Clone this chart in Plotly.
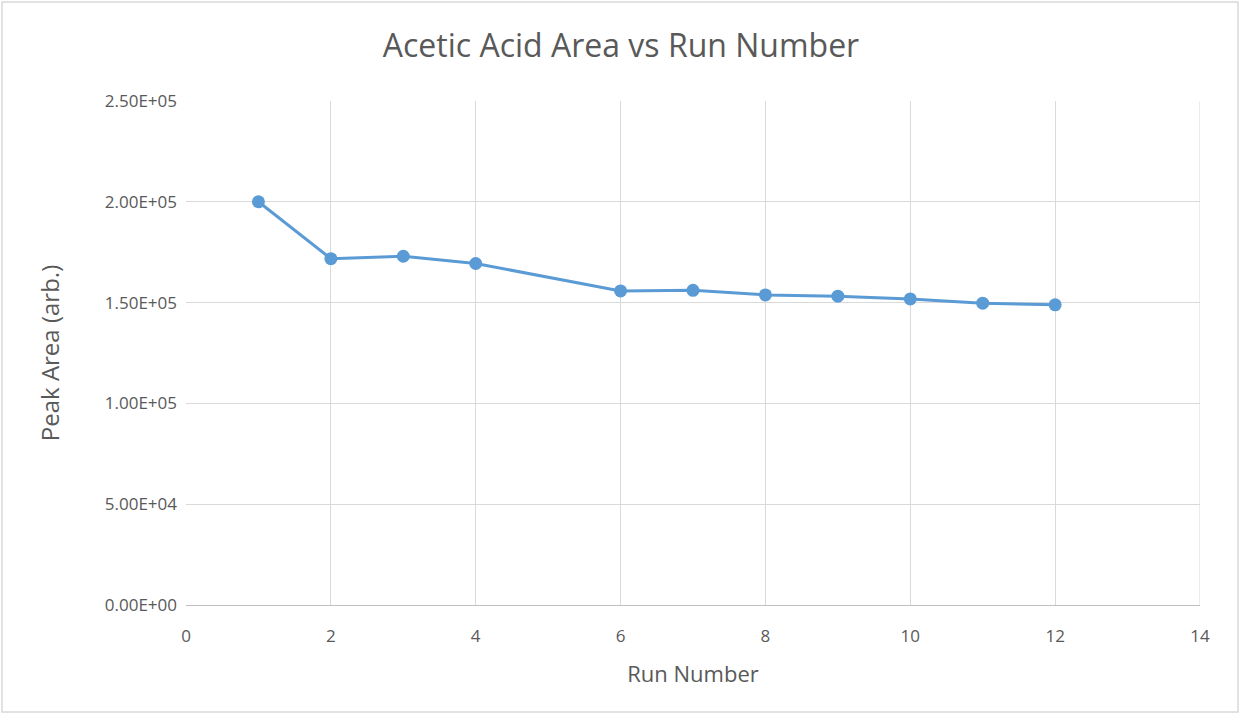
import plotly.graph_objects as go

# Acetic acid peak area per run
run_number = [1, 2, 3, 4, 6, 7, 8, 9, 10, 11, 12]
peak_area = [200000, 171800, 173000, 169400, 155800, 156100, 153800, 153200, 151800, 149700, 148900]

y_tick_values = [0, 50000, 100000, 150000, 200000, 250000]
y_tick_labels = ["0.00E+00", "5.00E+04", "1.00E+05", "1.50E+05", "2.00E+05", "2.50E+05"]
x_tick_values = [0, 2, 4, 6, 8, 10, 12, 14]

text_grey = "#595959"
grid_grey = "#d9d9d9"
series_blue = "#5b9bd5"
font_family = "'Open Sans', Lato, sans-serif"

fig = go.Figure()
fig.add_trace(go.Scatter(
    x=run_number,
    y=peak_area,
    mode="lines+markers",
    line=dict(color=series_blue, width=3),
    marker=dict(color=series_blue, size=13, line=dict(width=0)),
    showlegend=False,
))

fig.update_layout(
    width=1242,
    height=719,
    margin=dict(l=186, r=42, t=101, b=114),
    paper_bgcolor="white",
    plot_bgcolor="white",
    font=dict(family=font_family, color=text_grey, size=14),
    title=dict(
        text="Acetic Acid Area vs Run Number",
        font=dict(size=32, color=text_grey, family=font_family),
        xref="container", x=0.5, xanchor="center",
        yref="container", y=1 - 46 / 719, yanchor="middle",
    ),
    xaxis=dict(
        range=[0, 14],
        tickvals=x_tick_values,
        showgrid=True,
        gridcolor=grid_grey,
        gridwidth=1,
        zeroline=False,
        showline=True,
        linecolor="#bfbfbf",
        linewidth=1,
        ticks="",
        ticklabelstandoff=16,
        tickfont=dict(size=17, color=text_grey),
        title=dict(text="Run Number", font=dict(size=22, color=text_grey), standoff=20),
        mirror=False,
    ),
    yaxis=dict(
        range=[0, 250000],
        tickvals=y_tick_values,
        ticktext=y_tick_labels,
        showgrid=True,
        gridcolor=grid_grey,
        gridwidth=1,
        zeroline=False,
        showline=False,
        ticks="",
        ticklabelstandoff=8,
        tickfont=dict(size=17, color=text_grey),
        title=dict(text="Peak Area (arb.)", font=dict(size=24, color=text_grey), standoff=38),
    ),
    shapes=[
        # right-hand gridline at x = 14 and outer chart frame
        dict(type="line", xref="x", yref="paper", x0=14, x1=14, y0=0, y1=1,
             line=dict(color=grid_grey, width=1), layer="below"),
        dict(type="rect", xref="paper", yref="paper",
             x0=(2 - 186) / 1014, x1=(1238 - 186) / 1014,
             y0=(605 - 712) / 504, y1=(605 - 2) / 504,
             line=dict(color=grid_grey, width=1.5), layer="below"),
    ],
)

fig.write_html("out.html")
